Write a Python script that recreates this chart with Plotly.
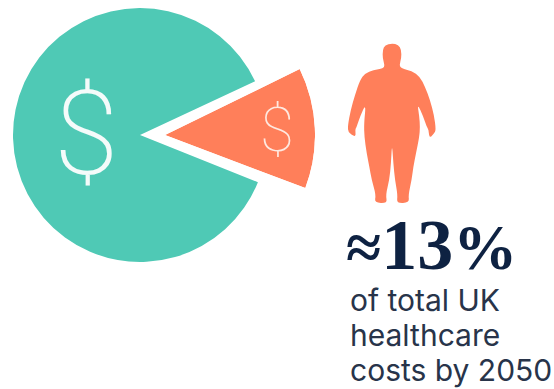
import math
import plotly.graph_objects as go

W, H = 554, 389

# Share of UK healthcare costs attributed to obesity by 2050
category_names = ["Obesity-related costs", "Other healthcare costs"]
share_values = [13, 87]
headline_parts = ["≈", "13", "%"]
caption_lines = ["of total UK", "healthcare", "costs by 2050"]

TEAL = "#4FC9B5"
CORAL = "#FF7F5A"
NAVY = "#0E2242"
BODY = "#28344A"


def px_x(v):
    return v / W


def px_y(v):
    return 1 - v / H


# Silhouette outline, drawn in page pixels and smoothed with quadratic segments
FIG_OUTLINE = [
    (186, 40), (205, 44), (214, 60), (214, 85), (208, 105), (214, 116), (245, 122), (270, 140),
    (285, 170), (300, 210), (312, 255), (318, 300), (312, 310), (302, 322), (297, 318), (296, 300),
    (290, 290), (280, 260), (262, 220), (268, 260), (270, 290), (268, 320), (258, 370), (250, 410),
    (245, 450), (235, 495), (238, 518), (200, 520), (203, 495), (195, 450), (190, 400), (186, 340),
    (183, 400), (178, 450), (167, 495), (172, 520), (133, 518), (138, 495), (125, 450), (118, 410),
    (110, 370), (103, 320), (102, 280), (108, 220), (90, 260), (80, 290), (75, 300), (78, 320),
    (65, 315), (55, 305), (53, 290), (62, 240), (75, 195), (90, 150), (105, 130), (130, 120),
    (160, 116), (164, 105), (158, 85), (158, 60), (165, 45),
]


def silhouette_path():
    pts = [(px_x(330 + x / 3), px_y(30 + y / 3)) for x, y in FIG_OUTLINE]
    n = len(pts)
    mid = lambda a, b: ((a[0] + b[0]) / 2, (a[1] + b[1]) / 2)
    start = mid(pts[-1], pts[0])
    path = f"M{start[0]:.5f},{start[1]:.5f}"
    for i in range(n):
        m = mid(pts[i], pts[(i + 1) % n])
        path += f" Q{pts[i][0]:.5f},{pts[i][1]:.5f} {m[0]:.5f},{m[1]:.5f}"
    return path + " Z"


slice_degrees = share_values[0] / sum(share_values) * 360

# Main disc with the obesity share left open
fig = go.Figure(
    go.Pie(
        labels=category_names,
        values=share_values,
        sort=False,
        direction="clockwise",
        rotation=90 - 25,
        marker=dict(colors=["rgba(0,0,0,0)", TEAL], line=dict(width=0)),
        textinfo="none",
        hoverinfo="label+percent",
        domain=dict(x=[px_x(13), px_x(267)], y=[px_y(262), px_y(8)]),
        showlegend=False,
    )
)

# Detached wedge, pulled out of the disc and slightly enlarged
sector_mid = 2.7
sector = [sector_mid - slice_degrees / 2, sector_mid + slice_degrees / 2]
apex_x, apex_y, radius = 165, 135, 150
top_px = apex_y - radius * math.sin(math.radians(sector[1]))
bottom_px = apex_y + radius * math.sin(math.radians(-sector[0]))
fig.add_trace(
    go.Barpolar(
        r=[1],
        theta=[sector_mid],
        width=[slice_degrees],
        marker=dict(color=CORAL, line=dict(width=0)),
        name=category_names[0],
        showlegend=False,
    )
)

# Headline mixes sizes so the digits stand taller than the symbols
headline_html = (
    f'<span style="font-size:64px">{headline_parts[0]}</span>'
    f'<span style="font-size:72px">{headline_parts[1]}</span>'
    f'<span style="font-size:64px">{headline_parts[2]}</span>'
)

annotations = [
    dict(text="$", x=px_x(85.5), y=px_y(134), font=dict(family="Roboto", size=117, color="#F4FBFA", weight=200)),
    dict(text="$", x=px_x(277), y=px_y(129), font=dict(family="Roboto", size=62, color="#FFE9E0", weight=100)),
    dict(text=headline_html, x=px_x(346), y=px_y(245), xanchor="left",
         font=dict(family="Liberation Serif", size=72, color=NAVY, weight=700)),
]
for line, cy in zip(caption_lines, [300, 335, 370]):
    annotations.append(
        dict(text=line, x=px_x(350), y=px_y(cy), xanchor="left",
             font=dict(family="Inter", size=30, color=BODY))
    )
for a in annotations:
    a.update(xref="paper", yref="paper", showarrow=False, yanchor="middle", borderpad=0, borderwidth=0)
    a.setdefault("xanchor", "center")

fig.update_layout(
    width=W,
    height=H,
    margin=dict(l=0, r=0, t=0, b=0),
    paper_bgcolor="white",
    plot_bgcolor="white",
    autosize=False,
    polar=dict(
        domain=dict(x=[px_x(apex_x), px_x(apex_x + radius)], y=[px_y(bottom_px), px_y(top_px)]),
        sector=sector,
        bgcolor="rgba(0,0,0,0)",
        bargap=0,
        radialaxis=dict(visible=False, range=[0, 1]),
        angularaxis=dict(visible=False),
    ),
    shapes=[
        dict(type="path", path=silhouette_path(), xref="paper", yref="paper",
             fillcolor=CORAL, line=dict(width=0), layer="above")
    ],
    annotations=annotations,
)

fig.write_html("out.html", config=dict(displayModeBar=False))
